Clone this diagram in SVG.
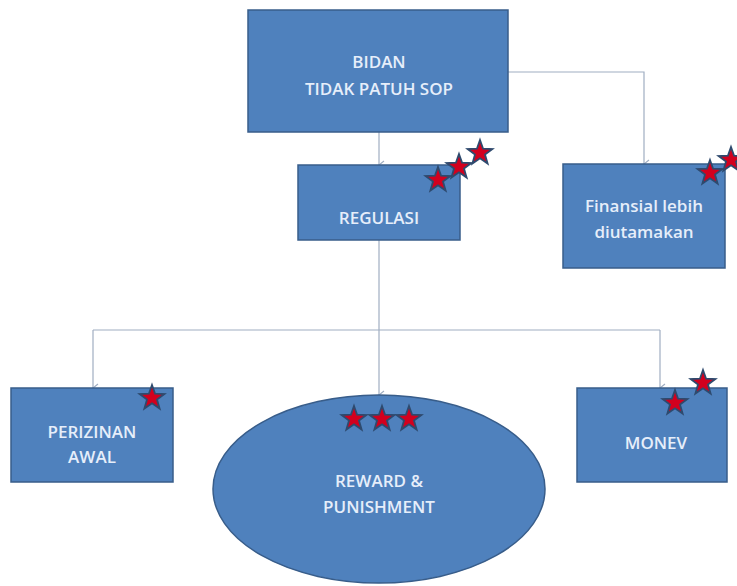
<svg xmlns="http://www.w3.org/2000/svg" width="737" height="586" viewBox="0 0 737 586">
<defs>
<style>
.box{fill:#4F81BD;stroke:#385D8A;stroke-width:1.5}
.lbl{font-family:"Open Sans","Liberation Sans",sans-serif;font-size:17px;font-weight:600;fill:#E6EEFA;text-anchor:middle}
.con{fill:none;stroke:#A0AEC2;stroke-width:1.2}
.star{fill:#D2001E;stroke:#2E4A6E;stroke-width:1.8;stroke-linejoin:miter}
</style>
<marker id="arr" markerWidth="10" markerHeight="10" refX="5" refY="8" orient="auto" markerUnits="userSpaceOnUse" viewBox="0 0 10 10">
<path d="M1,3 L5,8 L9,3" fill="none" stroke="#A0AEC2" stroke-width="1.2"/>
</marker>
<path id="st" d="M0,-13 L3.1,-4.3 L12.4,-4 L5,1.6 L7.6,10.5 L0,5.3 L-7.6,10.5 L-5,1.6 L-12.4,-4 L-3.1,-4.3 Z"/>
</defs>
<rect width="737" height="586" fill="#FFFFFF"/>
<g id="connectors">
<path class="con" d="M379,132 V165" marker-end="url(#arr)"/>
<path class="con" d="M508,72 H644 V164" marker-end="url(#arr)"/>
<path class="con" d="M379,240 V395" marker-end="url(#arr)"/>
<path class="con" d="M93,330 H660" />
<path class="con" d="M93,330 V388" marker-end="url(#arr)"/>
<path class="con" d="M660,330 V388" marker-end="url(#arr)"/>
</g>
<g id="bidan">
<rect class="box" x="248" y="10" width="260" height="122"/>
<text class="lbl" x="379" y="68">BIDAN</text>
<text class="lbl" x="379" y="95">TIDAK PATUH SOP</text>
</g>
<g id="regulasi">
<rect class="box" x="298" y="165" width="162" height="75"/>
<text class="lbl" x="379" y="224">REGULASI</text>
<use href="#st" class="star" x="438" y="180"/>
<use href="#st" class="star" x="459" y="167"/>
<use href="#st" class="star" x="480" y="153"/>
</g>
<g id="finansial">
<rect class="box" x="563" y="164" width="162" height="104"/>
<text class="lbl" x="644" y="212">Finansial lebih</text>
<text class="lbl" x="644" y="238">diutamakan</text>
<use href="#st" class="star" x="710" y="173"/>
<use href="#st" class="star" x="731" y="160"/>
</g>
<g id="perizinan">
<rect class="box" x="11" y="388" width="162" height="94"/>
<text class="lbl" x="92" y="438">PERIZINAN</text>
<text class="lbl" x="92" y="463">AWAL</text>
<use href="#st" class="star" x="152" y="398"/>
</g>
<g id="reward">
<ellipse class="box" cx="379" cy="489" rx="166" ry="94"/>
<text class="lbl" x="379" y="487">REWARD &amp;</text>
<text class="lbl" x="379" y="513">PUNISHMENT</text>
<use href="#st" class="star" x="354" y="419"/>
<use href="#st" class="star" x="382" y="419"/>
<use href="#st" class="star" x="409" y="419"/>
</g>
<g id="monev">
<rect class="box" x="577" y="388" width="150" height="94"/>
<text class="lbl" x="656" y="449">MONEV</text>
<use href="#st" class="star" x="675" y="403"/>
<use href="#st" class="star" x="703" y="383"/>
</g>
</svg>
